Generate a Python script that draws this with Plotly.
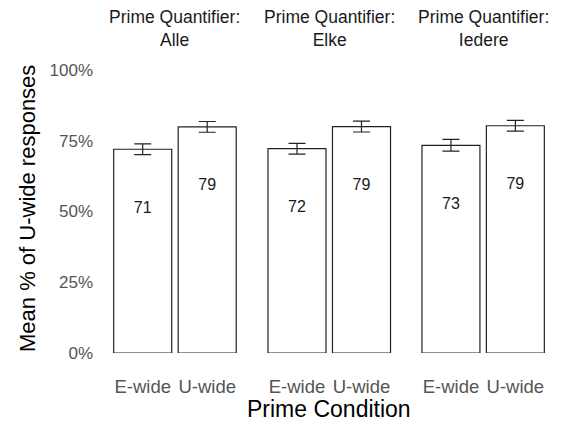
import plotly.graph_objects as go

quantifiers = ["Alle", "Elke", "Iedere"]
conditions = ["E-wide", "U-wide"]
e_wide = [72.0, 72.2, 73.4]
u_wide = [79.9, 80.0, 80.3]
e_err = [1.9, 1.9, 2.1]
u_err = [1.9, 1.9, 1.9]
e_labels = ["71", "72", "73"]
u_labels = ["79", "79", "79"]
y_ticks = [0, 25, 50, 75, 100]
y_tick_labels = ["0%", "25%", "50%", "75%", "100%"]

FONT = "Liberation Sans, Arial, sans-serif"
domains = [[0.0, 0.3153], [0.3429, 0.6582], [0.6851, 1.0]]
ML, MR, MT, MB = 104, 10, 70, 70
W, H = 564, 423
PH = H - MT - MB
LABEL_DROP = 21  # labels sit this many percentage points below the bar top

fig = go.Figure()
for i, q in enumerate(quantifiers):
    xa = "x" if i == 0 else f"x{i+1}"
    vals = [e_wide[i], u_wide[i]]
    errs = [e_err[i], u_err[i]]
    labs = [e_labels[i], u_labels[i]]
    fig.add_trace(go.Bar(
        x=conditions, y=vals, xaxis=xa, yaxis="y", width=0.9,
        marker=dict(color="white", line=dict(color="#222222", width=1.2)),
        error_y=dict(type="data", array=errs, visible=True, color="#222222",
                     thickness=1.2, width=8.5),
        showlegend=False, hoverinfo="skip",
    ))
    fig.add_trace(go.Scatter(
        x=conditions, y=[v - LABEL_DROP for v in vals], xaxis=xa, yaxis="y",
        mode="text", text=labs,
        textfont=dict(family=FONT, size=16, color="#1a1a1a"),
        showlegend=False, hoverinfo="skip",
    ))

layout = dict(
    width=W, height=H,
    margin=dict(l=ML, r=MR, t=MT, b=MB, autoexpand=False),
    paper_bgcolor="white", plot_bgcolor="white",
    font=dict(family=FONT),
    yaxis=dict(range=[0, 100], tickvals=y_ticks, ticktext=y_tick_labels,
               showgrid=False, zeroline=False, showline=False, ticks="",
               ticklabelstandoff=10, automargin=False,
               tickfont=dict(family=FONT, size=17, color="#555555")),
)
for i in range(3):
    key = "xaxis" if i == 0 else f"xaxis{i+1}"
    layout[key] = dict(
        domain=domains[i], anchor="y", type="category",
        categoryorder="array", categoryarray=conditions,
        range=[-0.6, 1.6], showgrid=False, zeroline=False, showline=False,
        ticks="", ticklabelstandoff=20, automargin=False,
        tickfont=dict(family=FONT, size=18.5, color="#555555"),
    )
fig.update_layout(**layout)

def py(px_from_top):
    return (H - MB - px_from_top) / PH

annotations = []
for i, q in enumerate(quantifiers):
    cx = (domains[i][0] + domains[i][1]) / 2
    annotations.append(dict(
        x=cx, y=py(28.5), xref="paper", yref="paper",
        text=f"Prime Quantifier:<br>{q}", showarrow=False, xanchor="center",
        yanchor="middle", align="center",
        font=dict(family=FONT, size=17.5, color="#1a1a1a"),
    ))
annotations.append(dict(
    x=0.5, y=py(409), xref="paper", yref="paper", text="Prime Condition",
    showarrow=False, xanchor="center", yanchor="middle",
    font=dict(family=FONT, size=23, color="black"),
))
annotations.append(dict(
    x=(27 - ML) / (W - ML - MR), y=py(209), xref="paper", yref="paper",
    text="Mean % of U-wide responses",
    showarrow=False, textangle=-90, xanchor="center", yanchor="middle",
    font=dict(family=FONT, size=22, color="black"),
))
fig.update_layout(annotations=annotations)

fig.write_html("out.html", config={"displayModeBar": False},
               post_script="document.body.style.margin='0';document.body.style.padding='0';")
